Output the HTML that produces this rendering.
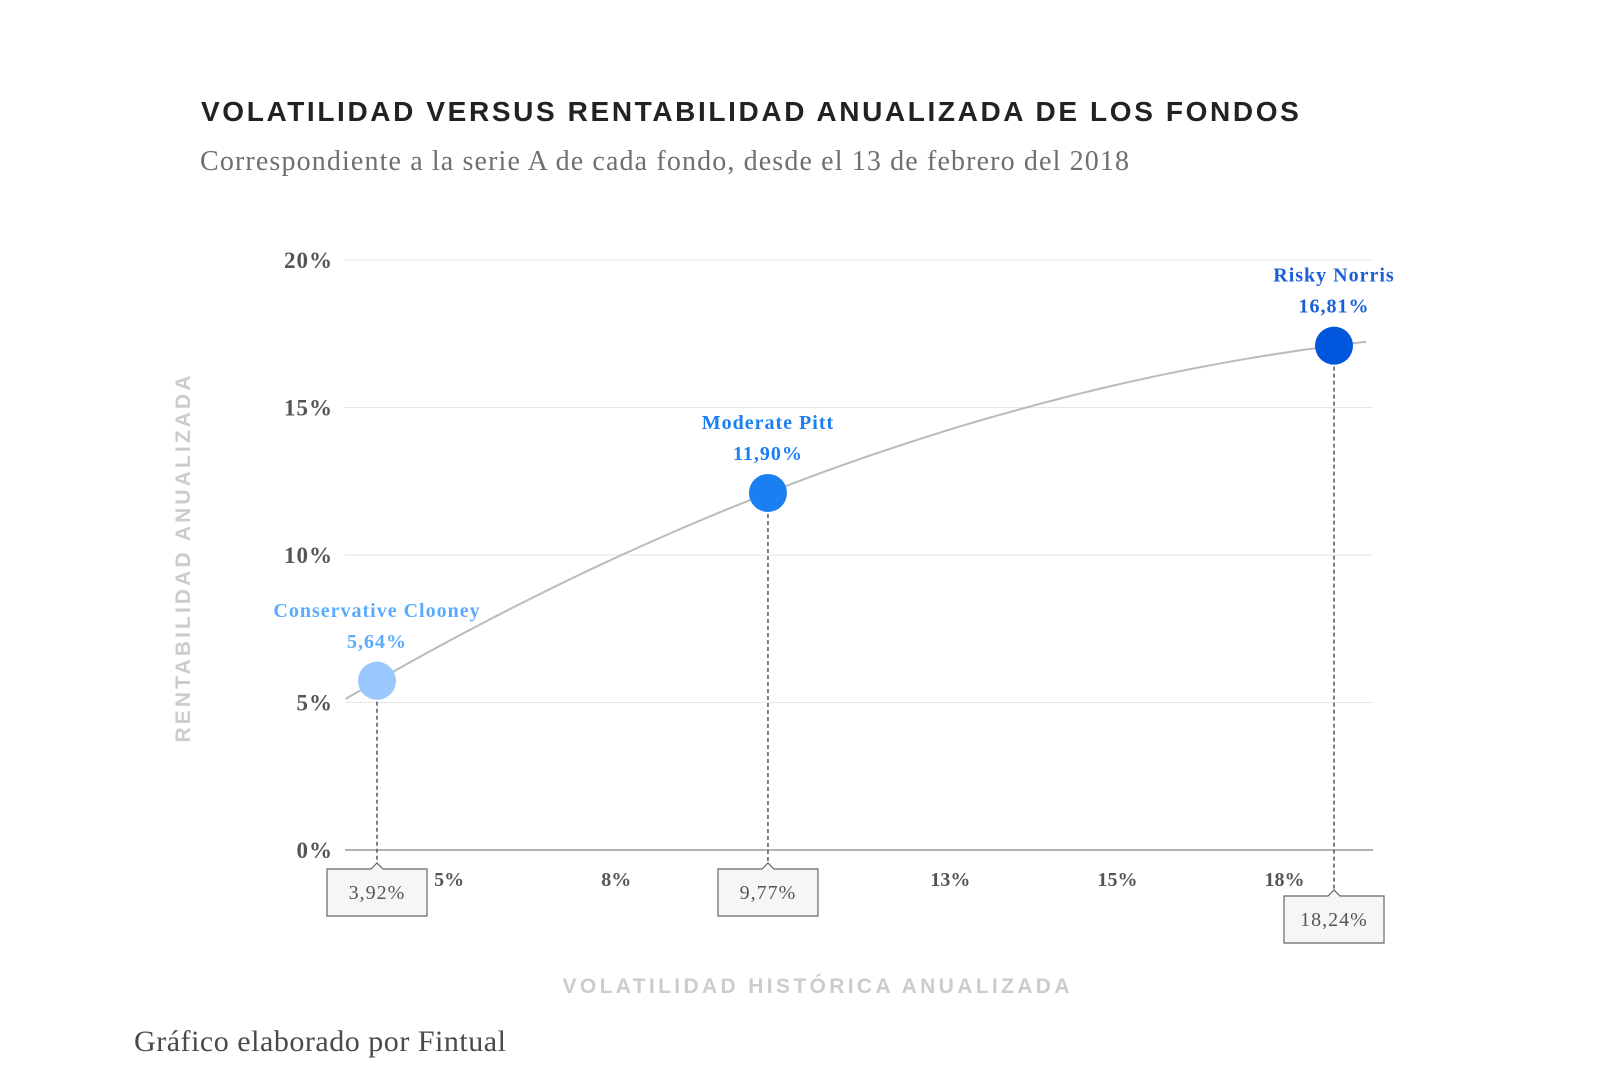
<!DOCTYPE html>
<html><head><meta charset="utf-8"><style>
body{margin:0;background:#fff;width:1600px;height:1080px;overflow:hidden}
svg{display:block}
</style></head><body>
<svg id="chart" width="1600" height="1080">
<text x="201" y="121" font-family="Liberation Sans, sans-serif" font-weight="bold" font-size="28" letter-spacing="2.2" fill="#222" textLength="1100">VOLATILIDAD VERSUS RENTABILIDAD ANUALIZADA DE LOS FONDOS</text>
<text x="200" y="170" font-family="Liberation Serif, serif" font-size="28" fill="#6f6f6f" textLength="929">Correspondiente a la serie A de cada fondo, desde el 13 de febrero del 2018</text>
<g id="grid"></g><g id="curve"></g><g id="marks"></g>
<text transform="translate(190,558) rotate(-90)" text-anchor="middle" font-family="Liberation Sans, sans-serif" font-weight="bold" font-size="21" letter-spacing="2" fill="#ccc" textLength="369">RENTABILIDAD ANUALIZADA</text>
<text x="817" y="993" text-anchor="middle" font-family="Liberation Sans, sans-serif" font-weight="bold" font-size="21" letter-spacing="2" fill="#ccc" textLength="509">VOLATILIDAD HISTÓRICA ANUALIZADA</text>
<text x="134" y="1051" font-family="Liberation Serif, serif" font-size="30" fill="#4a4a4a" textLength="372">Gráfico elaborado por Fintual</text>
</svg>
<script>
const fundNames=["Conservative Clooney","Moderate Pitt","Risky Norris"];
const volatility=[3.92,9.77,18.24];
const returns=[5.64,11.90,16.81];
const volLabels=["3,92%","9,77%","18,24%"];
const retLabels=["5,64%","11,90%","16,81%"];
const yTicks=[0,5,10,15,20];
const yTickLabels=["0%","5%","10%","15%","20%"];
const xTicks=[5,7.5,12.5,15,17.5];
const xTickLabels=["5%","8%","13%","15%","18%"];
const colors=["#99c8ff","#1a7ff0","#0057dd"];
const labelColors=["#5aabff","#1a7ff0","#1a5fd8"];
const NS="http://www.w3.org/2000/svg";
const X=v=>377+(v-volatility[0])*66.83;
const Y=v=>850-v*29.5;
const YP=v=>850-v*1.017*29.5;
const xMin=3.45,xMax=18.72;
function mk(tag,attrs,parent,text){const e=document.createElementNS(NS,tag);for(const k in attrs)e.setAttribute(k,attrs[k]);if(text!=null)e.textContent=text;parent.appendChild(e);return e;}
const grid=document.getElementById('grid'),curve=document.getElementById('curve'),marks=document.getElementById('marks');
yTicks.forEach((t,i)=>{
  const l=mk('line',{x1:345,x2:1373,y1:Y(t),y2:Y(t),stroke:t===0?'#999':'#e6e6e6','stroke-width':t===0?1.5:1},grid);
  
  
  const tx=mk('text',{x:333,y:Y(t)+8,'text-anchor':'end','font-family':'Liberation Serif, serif','font-weight':'bold','font-size':23,fill:'#555','letter-spacing':1},grid,yTickLabels[i]);
  
  
});
xTicks.forEach((t,i)=>{
  const tx=mk('text',{x:X(t),y:886,'text-anchor':'middle','font-family':'Liberation Serif, serif','font-weight':'bold','font-size':20,fill:'#555'},grid,xTickLabels[i]);
  
  
});
const [x0,x1,x2]=volatility,[y0,y1,y2]=returns;
const s1=(y1-y0)/(x1-x0),s2=(y2-y1)/(x2-x1),a=(s2-s1)/(x2-x0);
const f=x=>y0+(x-x0)*(s1+a*(x-x1));
let d='';for(let k=0;k<=60;k++){const x=xMin+(xMax-xMin)*k/60;d+=(k?'L':'M')+X(x).toFixed(1)+','+YP(f(x)).toFixed(1);}
const p=mk('path',{d:d,fill:'none',stroke:'#bbb','stroke-width':2},curve);


const boxY=[869,869,896];
volatility.forEach((v,i)=>{
  const cx=X(v),cy=YP(returns[i]),by=boxY[i];
  const dl=mk('line',{x1:cx,x2:cx,y1:cy,y2:by-6,stroke:'#555','stroke-width':1.5,'stroke-dasharray':'4,3'},marks);
  
  
  const bx=cx-50,bw=100,bh=47;
  const box=mk('path',{d:`M${bx},${by}L${cx-6},${by}L${cx},${by-6}L${cx+6},${by}L${bx+bw},${by}L${bx+bw},${by+bh}L${bx},${by+bh}Z`,fill:'#f6f6f6',stroke:'#666','stroke-width':1.2},marks);
  
  
  const bt=mk('text',{x:cx,y:by+30,'text-anchor':'middle','font-family':'Liberation Serif, serif','font-size':20,fill:'#555','letter-spacing':1},marks,volLabels[i]);
  
  
  const c=mk('circle',{cx:cx,cy:cy,r:19,fill:colors[i]},marks);
  
  
  const n=mk('text',{x:cx,y:cy-64,'text-anchor':'middle','font-family':'Liberation Serif, serif','font-weight':'bold','font-size':20,fill:labelColors[i],'letter-spacing':1},marks,fundNames[i]);
  
  
  const r=mk('text',{x:cx,y:cy-33,'text-anchor':'middle','font-family':'Liberation Serif, serif','font-weight':'bold','font-size':20,fill:labelColors[i],'letter-spacing':1},marks,retLabels[i]);
  
  
});
</script>
</body></html>
